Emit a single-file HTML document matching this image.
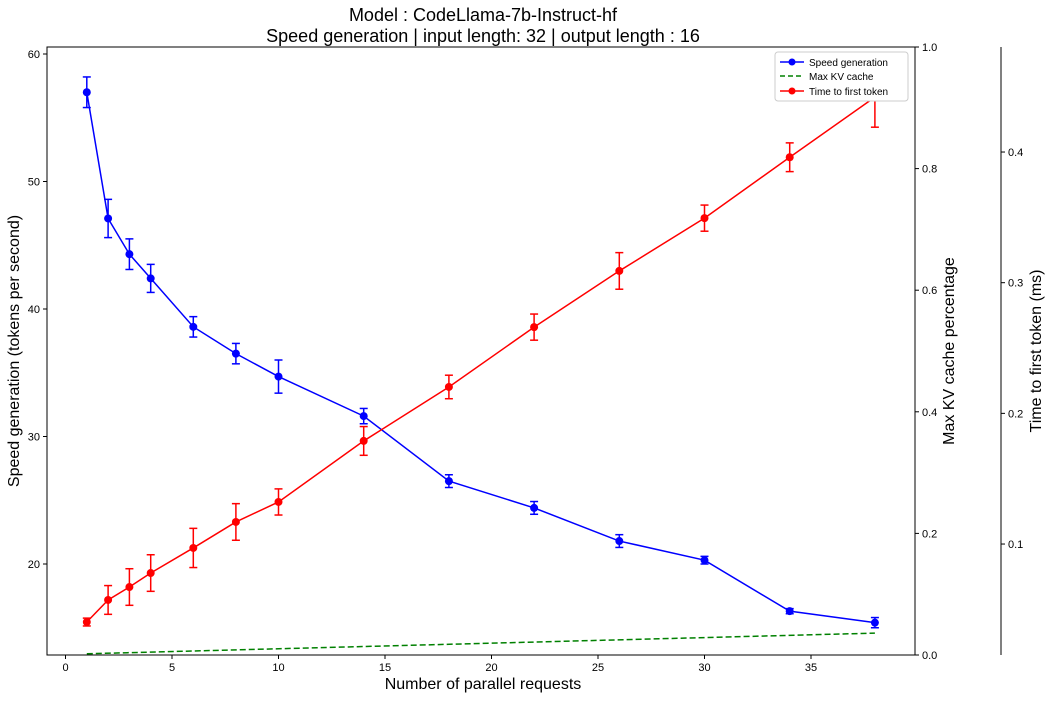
<!DOCTYPE html>
<html><head><meta charset="utf-8"><style>
body{margin:0;background:#fff}
svg{font-family:"Liberation Sans","DejaVu Sans",sans-serif}
</style></head><body>
<svg id="chart" width="1051" height="698" xmlns="http://www.w3.org/2000/svg">
<rect width="1051" height="698" fill="#fff"/>
<text x="483" y="21" font-size="18" text-anchor="middle">Model : CodeLlama-7b-Instruct-hf</text>
<text x="483" y="42" font-size="18" text-anchor="middle">Speed generation | input length: 32 | output length : 16</text>
<g id="axes"></g>
<g id="marks"></g>
<rect x="47" y="47" width="868" height="608" fill="none" stroke="#000" stroke-width="1"/>
<g>
<rect x="775" y="52" width="133" height="49" fill="#fff" stroke="#ccc" rx="3"/>
<line x1="780" y1="62" x2="804" y2="62" stroke="blue" stroke-width="1.5"/><circle cx="792" cy="62" r="3.5" fill="blue"/>
<text x="809" y="66" font-size="10">Speed generation</text>
<line x1="780" y1="76" x2="804" y2="76" stroke="green" stroke-width="1.5" stroke-dasharray="5,3"/>
<text x="809" y="80" font-size="10">Max KV cache</text>
<line x1="780" y1="91" x2="804" y2="91" stroke="red" stroke-width="1.5"/><circle cx="792" cy="91" r="3.5" fill="red"/>
<text x="809" y="95" font-size="10">Time to first token</text>
</g>
</svg>
<script>
const xs = [1,2,3,4,6,8,10,14,18,22,26,30,34,38];
const speed = [57.0,47.1,44.3,42.4,38.6,36.5,34.7,31.6,26.5,24.4,21.8,20.3,16.3,15.4];
const speedErr = [1.2,1.5,1.2,1.1,0.8,0.8,1.3,0.6,0.5,0.5,0.5,0.3,0.2,0.4];
const ttft = [0.0403,0.0572,0.0671,0.0778,0.097,0.1169,0.1322,0.1789,0.2202,0.266,0.309,0.3494,0.396,0.442];
const ttftErr = [0.003,0.011,0.014,0.014,0.015,0.014,0.010,0.011,0.009,0.010,0.014,0.010,0.011,0.023];
const kvX = [1,38];
const kv = [0.002,0.036];
const xTicks = [0,5,10,15,20,25,30,35];
const yTicks = [20,30,40,50,60];
const kvTicks = [0,0.2,0.4,0.6,0.8,1.0];
const msTicks = [0.1,0.2,0.3,0.4];

const NS="http://www.w3.org/2000/svg";
const X=v=>65.5+v*21.3;
const Y=v=>564-(v-20)*12.75;
const K=v=>655-v*608;
const M=v=>674.7-v*1306.7;
const axes=document.getElementById('axes'), marks=document.getElementById('marks');
function el(p,tag,a,t){const e=document.createElementNS(NS,tag);for(const k in a)e.setAttribute(k,a[k]);if(t!==undefined)e.textContent=t;p.appendChild(e);return e;}

xTicks.forEach(v=>{el(axes,'line',{x1:X(v),x2:X(v),y1:655,y2:659,stroke:'#000'});
const t=el(axes,'text',{x:X(v),y:671,'font-size':11,'text-anchor':'middle'},v);

});
yTicks.forEach(v=>{el(axes,'line',{x1:43,x2:47,y1:Y(v),y2:Y(v),stroke:'#000'});
const t=el(axes,'text',{x:40,y:Y(v)+4,'font-size':11,'text-anchor':'end'},v);

});
kvTicks.forEach(v=>{el(axes,'line',{x1:915,x2:919,y1:K(v),y2:K(v),stroke:'#000'});
const t=el(axes,'text',{x:922,y:K(v)+4,'font-size':11},v.toFixed(1));

});
el(axes,'line',{x1:1001,x2:1001,y1:47,y2:655,stroke:'#000'});
msTicks.forEach(v=>{el(axes,'line',{x1:1001,x2:1005,y1:M(v),y2:M(v),stroke:'#000'});
const t=el(axes,'text',{x:1008,y:M(v)+4,'font-size':11},v.toFixed(1));

});
let t;
t=el(axes,'text',{x:483,y:689,'font-size':16,'text-anchor':'middle'},'Number of parallel requests');

t=el(axes,'text',{transform:'translate(19,351) rotate(-90)','font-size':16,'text-anchor':'middle'},'Speed generation (tokens per second)');

t=el(axes,'text',{transform:'translate(954,351) rotate(-90)','font-size':16,'text-anchor':'middle'},'Max KV cache percentage');

t=el(axes,'text',{transform:'translate(1041,351) rotate(-90)','font-size':16,'text-anchor':'middle'},'Time to first token (ms)');


function series(vals,errs,sc,col,name){
  const l=el(marks,'polyline',{points:xs.map((x,i)=>X(x)+','+sc(vals[i])).join(' '),fill:'none',stroke:col,'stroke-width':1.5});
  
  xs.forEach((x,i)=>{const cx=X(x),y1=sc(vals[i]+errs[i]),y2=sc(vals[i]-errs[i]);
    el(marks,'line',{x1:cx,x2:cx,y1:y1,y2:y2,stroke:col,'stroke-width':1.5});
    el(marks,'line',{x1:cx-4,x2:cx+4,y1:y1,y2:y1,stroke:col,'stroke-width':1.5});
    el(marks,'line',{x1:cx-4,x2:cx+4,y1:y2,y2:y2,stroke:col,'stroke-width':1.5});
    const c=el(marks,'circle',{cx:cx,cy:sc(vals[i]),r:4,fill:col});
    });
}
series(speed,speedErr,Y,'blue','speed-generation');
const g=el(marks,'polyline',{points:kvX.map((x,i)=>X(x)+','+K(kv[i])).join(' '),fill:'none',stroke:'green','stroke-width':1.5,'stroke-dasharray':'6,3'});

series(ttft,ttftErr,M,'red','time-to-first-token');
</script>
</body></html>
